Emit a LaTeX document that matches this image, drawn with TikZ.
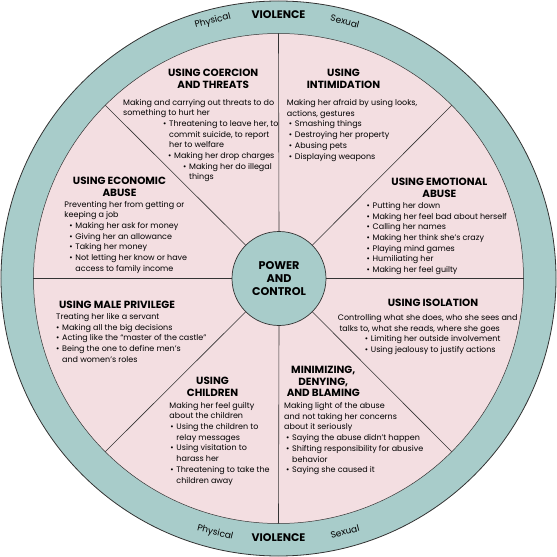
\documentclass[tikz,border=0pt]{standalone}
\usepackage{fontspec}
\setmainfont{Poppins}
\usepackage{tikz}
\definecolor{wheelTeal}{HTML}{A8CCCA}
\definecolor{wheelPink}{HTML}{F3DEE1}
\definecolor{wheelLine}{HTML}{333333}
\newcommand{\bodyfont}{\fontsize{8}{10.7}\selectfont}
\newcommand{\headfont}{\fontsize{10.4}{12.2}\selectfont\bfseries}
\newcommand{\bul}{\makebox[6pt][l]{\textbullet}}
\newcommand{\ind}[1]{\hspace*{#1pt}}
\tikzset{
  body/.style={anchor=north west, align=left, inner sep=0pt, font=\bodyfont},
  head/.style={align=center, inner sep=0pt, font=\headfont},
  rim/.style={inner sep=0pt, font=\fontsize{9}{10}\selectfont},
}

\begin{document}
\begin{tikzpicture}[x=1pt, y=1pt]
\useasboundingbox (-278.5,-278.5) rectangle (278.5,278.5);
\node[draw=wheelLine, line width=0.8pt, circle, fill=wheelTeal, minimum size=555pt, outer sep=0pt] (wheel) at (0,0) {};
\node[draw=wheelLine, line width=0.5pt, circle, fill=wheelPink, minimum size=490pt, outer sep=0pt] (ring) at (0,0) {};
\node[draw=wheelLine, line width=0.7pt, circle, fill=wheelTeal, minimum size=94pt, outer sep=0pt] (hub) at (0.5,0) {};
\foreach \a in {0,45,...,315}
  \draw[wheelLine, line width=0.6pt] (hub.\a) -- (ring.\a);
\node[head, font=\fontsize{11.2}{13}\selectfont\bfseries] (power) at (hub.center) {POWER\\AND\\CONTROL};

% violence rim
\node[rim, font=\fontsize{11}{11}\selectfont\bfseries] (violTop) at (0,263.5) {VIOLENCE};
\node[rim, rotate=14.3] (physTop) at (104.3:265.7) {Physical};
\node[rim, rotate=-14.5] (sexTop) at (75.5:265.5) {Sexual};
\node[rim, font=\fontsize{11}{11}\selectfont\bfseries] (violBot) at (0,-259.2) {VIOLENCE};
\node[rim, rotate=-14] (physBot) at (256:262) {Physical};
\node[rim, rotate=14.7] (sexBot) at (284.7:261.8) {Sexual};

% coercion and threats
\node[head] (coerHead) at (-65.3,199.6) {USING COERCION\\AND THREATS};
\node[body] (coerBody) at (-155.5,179.7) {Making and carrying out threats to do\\
something to hurt her\\
\ind{40}\bul Threatening to leave her, to\\
\ind{46}commit suicide, to report\\
\ind{46}her to welfare\\
\ind{45}\bul Making her drop charges\\
\ind{60}\bul Making her do illegal\\
\ind{66}things};

% intimidation
\node[head] (intimHead) at (65,199.6) {USING\\INTIMIDATION};
\node[body] (intimBody) at (8.2,179.3) {Making her afraid by using looks,\\
actions, gestures\\
\ind{2}\bul Smashing things\\
\ind{2}\bul Destroying her property\\
\ind{2}\bul Abusing pets\\
\ind{2}\bul Displaying weapons};

% economic abuse
\node[head] (econHead) at (-159,91.8) {USING ECONOMIC\\ABUSE};
\node[body] (econBody) at (-214.2,77.7) {Preventing her from getting or\\
keeping a job\\
\ind{5}\bul Making her ask for money\\
\ind{5}\bul Giving her an allowance\\
\ind{5}\bul Taking her money\\
\ind{5}\bul Not letting her know or have\\
\ind{11}access to family income};

% emotional abuse
\node[head] (emoHead) at (160.9,90.5) {USING EMOTIONAL\\ABUSE};
\node[body] (emoBody) at (88,76.3) {\bul Putting her down\\
\bul Making her feel bad about herself\\
\bul Calling her names\\
\bul Making her think she’s crazy\\
\bul Playing mind games\\
\bul Humiliating her\\
\bul Making her feel guilty};

% male privilege
\node[head] (maleHead) at (-161.5,-26.5) {USING MALE PRIVILEGE};
\node[body] (maleBody) at (-222.5,-34.7) {Treating her like a servant\\
\bul Making all the big decisions\\
\bul Acting like the “master of the castle”\\
\bul Being the one to define men’s\\
\ind{6}and women’s roles};

% isolation
\node[head] (isoHead) at (154.5,-24.8) {USING ISOLATION};
\node[body] (isoBody) at (59.2,-35.7) {Controlling what she does, who she sees and\\
\ind{1.6}talks to, what she reads, where she goes\\
\ind{27}\bul Limiting her outside involvement\\
\ind{27}\bul Using jealousy to justify actions};

% children
\node[head] (childHead) at (-66,-108.5) {USING\\CHILDREN};
\node[body] (childBody) at (-109.2,-123.3) {Making her feel guilty\\
about the children\\
\ind{1}\bul Using the children to\\
\ind{7}relay messages\\
\ind{1}\bul Using visitation to\\
\ind{7}harass her\\
\ind{1}\bul Threatening to take the\\
\ind{7}children away};

% minimizing, denying, blaming
\node[head, font=\fontsize{10.4}{11.3}\selectfont\bfseries] (minHead) at (44.8,-103) {MINIMIZING,\\DENYING,\\AND BLAMING};
\node[body] (minBody) at (5.5,-123.7) {Making light of the abuse\\
and not taking her concerns\\
about it seriously\\
\ind{2}\bul Saying the abuse didn’t happen\\
\ind{2}\bul Shifting responsibility for abusive\\
\ind{8}behavior\\
\ind{2}\bul Saying she caused it};
\end{tikzpicture}
\end{document}
